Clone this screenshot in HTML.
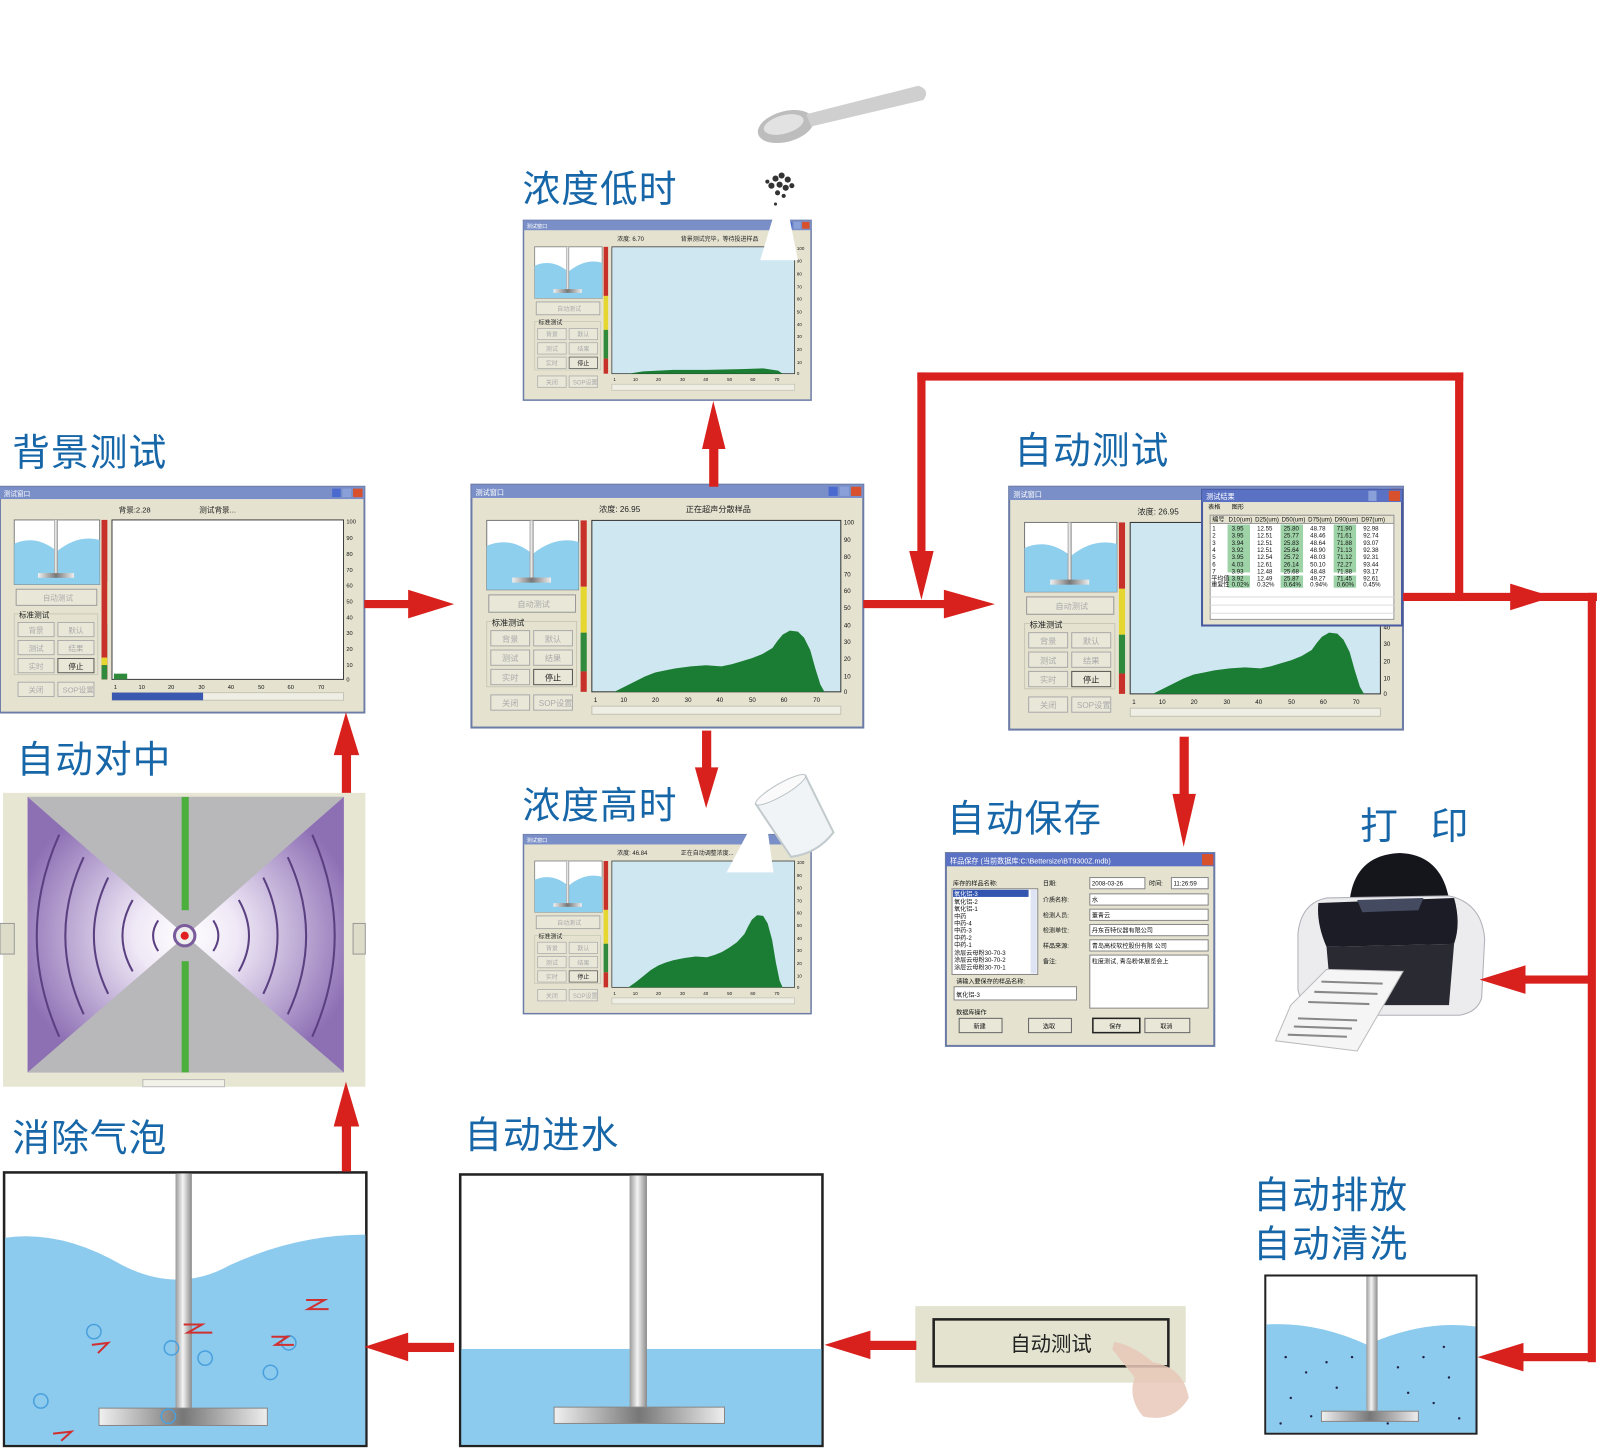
<!DOCTYPE html>
<html><head><meta charset="utf-8"><style>
html,body{margin:0;padding:0;background:#fff;}
svg{display:block;font-family:"Liberation Sans","Noto Sans CJK SC",sans-serif;}
.lbl{font-size:37px;fill:#1767a8;letter-spacing:1px;}
.t{font-size:8px;fill:#222;}
.g{font-size:8px;fill:#aaa;}
.w{font-size:7px;fill:#fff;}
.s{font-size:6px;fill:#111;}
</style></head><body>
<svg width="1600" height="1451" viewBox="0 0 1568 1422" xmlns="http://www.w3.org/2000/svg">
<defs>
<linearGradient id="shaft" x1="0" x2="1"><stop offset="0" stop-color="#9a9a9a"/><stop offset=".45" stop-color="#f4f4f4"/><stop offset="1" stop-color="#8a8a8a"/></linearGradient>
<linearGradient id="pad" x1="0" x2="1"><stop offset="0" stop-color="#f0f0f0"/><stop offset=".5" stop-color="#777"/><stop offset="1" stop-color="#eee"/></linearGradient>
<radialGradient id="cen" cx="0.5" cy="0.5" r="0.55"><stop offset="0" stop-color="#fff"/><stop offset=".3" stop-color="#efe8f6"/><stop offset="1" stop-color="#8d6fb4"/></radialGradient>
<g id="winbase">
 <rect x="0" y="0" width="384" height="238" fill="#e5e3d0" stroke="#6c7ca6" stroke-width="2"/>
 <rect x="0" y="0" width="384" height="13" fill="#7a8fc8"/>
 <rect x="350" y="2" width="9" height="9" fill="#4a6ad0"/><rect x="361" y="2" width="9" height="9" fill="#8aa0d8"/><rect x="372" y="2" width="10" height="9" fill="#d8502c"/>
 <rect x="15" y="35" width="90" height="68" fill="#fff" stroke="#777"/>
 <path d="M15,60 Q38,50 60,68 Q82,50 105,56 V103 H15Z" fill="#8fcfee"/>
 <rect x="57" y="35" width="4" height="58" fill="url(#shaft)"/><rect x="40" y="91" width="38" height="5" fill="url(#pad)"/>
 <rect x="107" y="35" width="6" height="65" fill="#c8302a"/><rect x="107" y="100" width="6" height="45" fill="#e6d630"/><rect x="107" y="145" width="6" height="38" fill="#2f8a3c"/><rect x="107" y="183" width="6" height="20" fill="#c8302a"/>
 <rect x="17" y="108" width="85" height="17" fill="#e9e7d8" stroke="#999"/>
 <rect x="15" y="134" width="88" height="64" fill="none" stroke="#c9c7b6"/>
 <rect x="19" y="143" width="38" height="15" fill="#e9e7d8" stroke="#aaa"/><rect x="61" y="143" width="38" height="15" fill="#e9e7d8" stroke="#aaa"/>
 <rect x="19" y="162" width="38" height="15" fill="#e9e7d8" stroke="#aaa"/><rect x="61" y="162" width="38" height="15" fill="#e9e7d8" stroke="#aaa"/>
 <rect x="19" y="181" width="38" height="15" fill="#e9e7d8" stroke="#aaa"/><rect x="61" y="181" width="38" height="15" fill="#e9e7d8" stroke="#555"/>
 <rect x="19" y="206" width="38" height="15" fill="#e9e7d8" stroke="#aaa"/><rect x="61" y="206" width="38" height="15" fill="#e9e7d8" stroke="#aaa"/>
 <rect x="118" y="217" width="244" height="8" fill="#efeee4" stroke="#c4c2b2"/>
</g>
<g id="wintext">
 <text class="w" x="4" y="10">测试窗口</text>
 <text class="g" x="45" y="120">自动测试</text>
 <text class="t" x="20" y="138">标准测试</text>
 <text class="g" x="30" y="154">背景</text><text class="g" x="72" y="154">默认</text>
 <text class="g" x="30" y="173">测试</text><text class="g" x="72" y="173">结果</text>
 <text class="g" x="30" y="192">实时</text><text class="t" x="72" y="192">停止</text>
 <text class="g" x="30" y="217">关闭</text><text class="g" x="66" y="217">SOP设置</text>
 <g class="s" font-size="6">
 <text x="365" y="39">100</text><text x="365" y="56">90</text><text x="365" y="73">80</text><text x="365" y="90">70</text><text x="365" y="106">60</text><text x="365" y="123">50</text><text x="365" y="140">40</text><text x="365" y="156">30</text><text x="365" y="173">20</text><text x="365" y="190">10</text><text x="365" y="205">0</text>
 <text x="120" y="213">1</text><text x="146" y="213">10</text><text x="177" y="213">20</text><text x="209" y="213">30</text><text x="240" y="213">40</text><text x="272" y="213">50</text><text x="303" y="213">60</text><text x="335" y="213">70</text>
 </g>
</g>
</defs>

<!-- spoon & particles -->
<ellipse cx="770" cy="124" rx="28" ry="15" fill="#bdbdbd" transform="rotate(-15 770 124)"/>
<ellipse cx="768" cy="122" rx="20" ry="9" fill="#e2e2e2" transform="rotate(-15 768 122)"/>
<path d="M790,112 L900,84 Q912,88 905,98 L795,124Z" fill="#cfcfcf"/>
<g fill="#333">
<circle cx="760" cy="175" r="3"/><circle cx="766" cy="172" r="3"/><circle cx="772" cy="176" r="3"/><circle cx="756" cy="182" r="3"/><circle cx="764" cy="181" r="3"/><circle cx="770" cy="184" r="3"/><circle cx="776" cy="182" r="2.5"/><circle cx="752" cy="178" r="2"/><circle cx="762" cy="189" r="2.5"/><circle cx="768" cy="192" r="2"/><circle cx="760" cy="200" r="1.5"/><circle cx="765" cy="208" r="1.5"/><circle cx="762" cy="218" r="1.5"/><circle cx="767" cy="226" r="1.2"/></g>

<!-- labels -->
<text class="lbl" x="512" y="198">浓度低时</text>
<text class="lbl" x="12" y="456">背景测试</text>
<text class="lbl" x="994" y="454">自动测试</text>
<text class="lbl" x="16" y="757">自动对中</text>
<text class="lbl" x="512" y="802">浓度高时</text>
<text class="lbl" x="928" y="815">自动保存</text>
<text class="lbl" x="1333" y="822">打</text><text class="lbl" x="1402" y="822">印</text>
<text class="lbl" x="12" y="1128">消除气泡</text>
<text class="lbl" x="455" y="1125">自动进水</text>
<text class="lbl" x="1228" y="1184">自动排放</text>
<text class="lbl" x="1228" y="1232">自动清洗</text>

<!-- low concentration window -->
<g transform="translate(513,216) scale(0.734,0.74)">
 <use href="#winbase"/>
 <rect x="118" y="35" width="244" height="168" fill="#cfe7f0" stroke="#333"/>
 <polygon points="140,203 160,200 200,198 245,198 290,197 320,196 340,199 346,203" fill="#1b7d33"/>
 <use href="#wintext"/>
 <text class="t" x="125" y="27">浓度: 6.70</text><text class="t" x="210" y="27">背景测试完毕，等待投进样品</text>
</g>
<path d="M760,205 L745,255 L782,255 L772,205Z" fill="#fff"/>

<!-- background window -->
<g transform="translate(0,477) scale(0.93,0.93)">
 <use href="#winbase"/>
 <rect x="107" y="35" width="6" height="168" fill="#c8302a"/><rect x="107" y="180" width="6" height="8" fill="#e6d630"/><rect x="107" y="188" width="6" height="15" fill="#2f8a3c"/>
 <rect x="118" y="35" width="244" height="168" fill="#fff" stroke="#333"/>
 <rect x="120" y="197" width="14" height="6" fill="#2f8a3c"/>
 <rect x="118" y="217" width="96" height="8" fill="#3a58b0"/>
 <use href="#wintext"/>
 <text class="t" x="125" y="27">背景:2.28</text><text class="t" x="210" y="27">测试背景...</text>
</g>

<!-- middle window -->
<g transform="translate(462,475)">
 <use href="#winbase"/>
 <rect x="118" y="35" width="244" height="168" fill="#cfe7f0" stroke="#333"/>
 <polygon points="140,203 150,198 160,193 170,188 180,184 190,182 200,180 215,178 230,177 245,178 255,176 265,173 275,170 285,166 295,160 300,153 305,147 312,143 320,144 326,150 332,162 337,180 342,196 346,203" fill="#1b7d33"/>
 <use href="#wintext"/>
 <text class="t" x="125" y="27">浓度: 26.95</text><text class="t" x="210" y="27">正在超声分散样品</text>
</g>

<!-- high concentration window -->
<g transform="translate(513,818) scale(0.734,0.737)">
 <use href="#winbase"/>
 <rect x="118" y="35" width="244" height="168" fill="#cfe7f0" stroke="#333"/>
 <polygon points="140,203 150,196 160,188 170,180 180,174 190,170 200,167 215,164 230,162 245,163 255,160 265,156 275,150 285,143 295,132 300,122 305,113 312,107 320,108 326,118 332,140 337,170 342,194 346,203" fill="#1b7d33"/>
 <use href="#wintext"/>
 <text class="t" x="125" y="27">浓度: 46.84</text><text class="t" x="210" y="27">正在自动调整浓度...</text>
</g>
<path d="M735,812 L712,855 L758,855 L752,812Z" fill="#fff"/>
<!-- beaker -->
<g transform="rotate(-30 780 800)">
<path d="M752,770 L808,770 L804,832 Q780,842 756,832Z" fill="#f1f4f6" stroke="#c2cacd" stroke-width="2"/>
<ellipse cx="780" cy="770" rx="28" ry="6" fill="#fafafa" stroke="#bcc4c8"/>
</g>

<!-- auto test window -->
<g transform="translate(989,477) scale(1.005,1)">
 <use href="#winbase"/>
 <rect x="118" y="35" width="244" height="168" fill="#cfe7f0" stroke="#333"/>
 <polygon points="140,203 150,198 160,193 170,188 180,184 190,182 200,180 215,178 230,177 245,178 255,176 265,173 275,170 285,166 295,160 300,153 305,147 312,143 320,144 326,150 332,162 337,180 342,196 346,203" fill="#1b7d33"/>
 <use href="#wintext"/>
 <text class="t" x="125" y="27">浓度: 26.95</text>
</g>
<!-- result popup -->
<g>
 <rect x="1178" y="480" width="196" height="133" fill="#e5e3d0" stroke="#4a5aa0" stroke-width="2"/>
 <rect x="1178" y="480" width="196" height="12" fill="#5b72c4"/>
 <text class="w" x="1182" y="489">测试结果</text>
 <rect x="1361" y="481" width="11" height="10" fill="#d8502c"/><rect x="1341" y="481" width="8" height="10" fill="#8aa0d8"/>
 <text class="s" x="1184" y="499">表格</text><text class="s" x="1207" y="499">图形</text>
 <rect x="1186" y="505" width="180" height="102" fill="#fff" stroke="#999"/>
 <rect x="1186" y="505" width="180" height="8" fill="#e5e3d0" stroke="#999"/>
 <g fill="#9ed3a8"><rect x="1203" y="514" width="22" height="47"/><rect x="1255" y="514" width="22" height="47"/><rect x="1307" y="514" width="22" height="47"/><rect x="1203" y="564" width="22" height="12"/><rect x="1255" y="564" width="22" height="12"/><rect x="1307" y="564" width="22" height="12"/></g>
 <g stroke="#ddd"><line x1="1186" y1="585" x2="1366" y2="585"/><line x1="1186" y1="593" x2="1366" y2="593"/><line x1="1186" y1="601" x2="1366" y2="601"/></g>
 <g class="s" font-size="4.5">
 <text x="1188" y="511">编号</text><text x="1204" y="511">D10(um)</text><text x="1230" y="511">D25(um)</text><text x="1256" y="511">D50(um)</text><text x="1282" y="511">D75(um)</text><text x="1308" y="511">D90(um)</text><text x="1334" y="511">D97(um)</text>
 <text x="1188" y="520">1</text><text x="1188" y="527">2</text><text x="1188" y="534">3</text><text x="1188" y="541">4</text><text x="1188" y="548">5</text><text x="1188" y="555">6</text><text x="1188" y="562">7</text><text x="1187" y="569">平均值</text><text x="1187" y="575">重复性</text>
 <text x="1207" y="520">3.95</text><text x="1232" y="520">12.55</text><text x="1258" y="520">25.80</text><text x="1284" y="520">48.78</text><text x="1310" y="520">71.90</text><text x="1336" y="520">92.98</text>
 <text x="1207" y="527">3.95</text><text x="1232" y="527">12.51</text><text x="1258" y="527">25.77</text><text x="1284" y="527">48.46</text><text x="1310" y="527">71.61</text><text x="1336" y="527">92.74</text>
 <text x="1207" y="534">3.94</text><text x="1232" y="534">12.51</text><text x="1258" y="534">25.83</text><text x="1284" y="534">48.64</text><text x="1310" y="534">71.88</text><text x="1336" y="534">93.07</text>
 <text x="1207" y="541">3.92</text><text x="1232" y="541">12.51</text><text x="1258" y="541">25.64</text><text x="1284" y="541">48.90</text><text x="1310" y="541">71.13</text><text x="1336" y="541">92.38</text>
 <text x="1207" y="548">3.95</text><text x="1232" y="548">12.54</text><text x="1258" y="548">25.72</text><text x="1284" y="548">48.03</text><text x="1310" y="548">71.12</text><text x="1336" y="548">92.31</text>
 <text x="1207" y="555">4.03</text><text x="1232" y="555">12.61</text><text x="1258" y="555">26.14</text><text x="1284" y="555">50.10</text><text x="1310" y="555">72.27</text><text x="1336" y="555">93.44</text>
 <text x="1207" y="562">3.93</text><text x="1232" y="562">12.48</text><text x="1258" y="562">25.68</text><text x="1284" y="562">48.48</text><text x="1310" y="562">71.88</text><text x="1336" y="562">93.17</text>
 <text x="1207" y="569">3.92</text><text x="1232" y="569">12.49</text><text x="1258" y="569">25.87</text><text x="1284" y="569">49.27</text><text x="1310" y="569">71.45</text><text x="1336" y="569">92.61</text>
 <text x="1207" y="575">0.02%</text><text x="1232" y="575">0.32%</text><text x="1258" y="575">0.64%</text><text x="1284" y="575">0.94%</text><text x="1310" y="575">0.60%</text><text x="1336" y="575">0.45%</text>
 </g>
</g>

<!-- auto center -->
<rect x="3" y="777" width="355" height="288" fill="#e6e6d2"/>
<rect x="0" y="905" width="14" height="30" fill="#dcdcc8" stroke="#999"/>
<rect x="346" y="905" width="12" height="30" fill="#dcdcc8" stroke="#999"/>
<rect x="140" y="1058" width="80" height="7" fill="#f2f2e8" stroke="#bbb"/>
<rect x="27" y="781" width="310" height="270" fill="url(#cen)"/>
<g fill="none" stroke="#5a4080" stroke-width="2">
<path d="M155,902 Q145,917 155,932"/><path d="M130,882 Q110,917 130,952"/><path d="M106,860 Q78,917 106,974"/><path d="M82,840 Q46,917 82,994"/><path d="M58,818 Q14,917 58,1016"/>
<path d="M209,902 Q219,917 209,932"/><path d="M234,882 Q254,917 234,952"/><path d="M258,860 Q286,917 258,974"/><path d="M282,840 Q318,917 282,994"/><path d="M306,818 Q350,917 306,1016"/>
</g>
<path d="M27,781 L337,781 L182,917Z" fill="#b8b8bb"/>
<path d="M27,1051 L337,1051 L182,917Z" fill="#b8b8bb"/>
<rect x="178" y="781" width="7" height="111" fill="#4cae3c"/><rect x="178" y="942" width="7" height="109" fill="#4cae3c"/>
<circle cx="181" cy="917" r="10" fill="#eee" stroke="#7a5c9c" stroke-width="3"/><circle cx="181" cy="917" r="4" fill="#e02020"/>

<!-- save dialog -->
<g>
 <rect x="927" y="836" width="263" height="189" fill="#e5e3d0" stroke="#6c7ca6" stroke-width="2"/>
 <rect x="927" y="836" width="263" height="13" fill="#5b72c4"/>
 <text class="w" x="931" y="846">样品保存  (当前数据库:C:\Bettersize\BT9300Z.mdb)</text>
 <rect x="1178" y="837" width="11" height="11" fill="#d8502c"/>
 <text class="s" x="934" y="868">库存的样品名称:</text>
 <rect x="933" y="871" width="84" height="84" fill="#fff" stroke="#888"/>
 <rect x="934" y="872" width="74" height="7" fill="#3355b0"/>
 <rect x="1010" y="872" width="6" height="82" fill="#dfe4f4"/>
 <g class="s" font-size="6"><text x="935" y="878" fill="#fff">氧化铝-3</text><text x="935" y="886">氧化铝-2</text><text x="935" y="893">氧化铝-1</text><text x="935" y="900">中药</text><text x="935" y="907">中药-4</text><text x="935" y="914">中药-3</text><text x="935" y="921">中药-2</text><text x="935" y="928">中药-1</text><text x="935" y="936">涂层云母粉30-70-3</text><text x="935" y="943">涂层云母粉30-70-2</text><text x="935" y="950">涂层云母粉30-70-1</text></g>
 <g class="s" font-size="7"><text x="1022" y="868">日期:</text><text x="1022" y="884">介质名称:</text><text x="1022" y="899">检测人员:</text><text x="1022" y="914">检测单位:</text><text x="1022" y="929">样品来源:</text><text x="1022" y="944">备注:</text><text x="1126" y="868">时间:</text></g>
 <g fill="#fff" stroke="#888"><rect x="1068" y="860" width="54" height="11"/><rect x="1148" y="860" width="36" height="11"/><rect x="1068" y="876" width="116" height="11"/><rect x="1068" y="891" width="116" height="11"/><rect x="1068" y="906" width="116" height="11"/><rect x="1068" y="921" width="116" height="11"/><rect x="1068" y="936" width="116" height="52"/><rect x="935" y="967" width="120" height="13"/></g>
 <g class="s" font-size="6.5"><text x="1070" y="868">2008-03-26</text><text x="1150" y="868">11:26:59</text><text x="1070" y="884">水</text><text x="1070" y="899">董青云</text><text x="1070" y="914">丹东百特仪器有限公司</text><text x="1070" y="929">青岛高校软控股份有限 公司</text><text x="1070" y="944">粒度测试, 青岛粉体展览会上</text><text x="937" y="977">氧化铝-3</text><text x="937" y="964">请输入要保存的样品名称:</text><text x="937" y="994">数据库操作</text></g>
 <g fill="#e9e7d8" stroke="#666"><rect x="940" y="998" width="42" height="14"/><rect x="1008" y="998" width="42" height="14"/><rect x="1071" y="998" width="46" height="14" stroke="#222" stroke-width="1.5"/><rect x="1122" y="998" width="44" height="14"/></g>
 <g class="s" font-size="7"><text x="954" y="1008">新建</text><text x="1022" y="1008">选取</text><text x="1087" y="1008">保存</text><text x="1137" y="1008">取消</text></g>
</g>

<!-- printer -->
<g>
 <path d="M1322,900 Q1320,838 1372,836 Q1420,838 1422,900Z" fill="#15151c"/>
 <path d="M1272,915 Q1275,885 1300,880 L1420,878 Q1452,885 1455,920 L1452,978 Q1448,992 1430,995 L1300,995 Q1276,990 1272,970Z" fill="#ececef" stroke="#b0b0b8"/>
 <path d="M1292,885 L1425,880 Q1432,905 1425,925 L1300,928 Q1290,905 1292,885Z" fill="#1b1c26"/>
 <path d="M1300,928 L1425,925 L1420,985 L1305,985Z" fill="#2a2a33"/>
 <path d="M1330,882 L1395,880 L1390,892 L1335,894Z" fill="#444a60"/>
 <path d="M1265,985 L1300,950 L1375,952 L1330,1030 L1250,1020Z" fill="#f5f5f5" stroke="#bbb"/>
 <g stroke="#888" stroke-width="2"><line x1="1272" y1="998" x2="1330" y2="1000"/><line x1="1268" y1="1006" x2="1325" y2="1008"/><line x1="1262" y1="1014" x2="1320" y2="1016"/><line x1="1295" y1="962" x2="1355" y2="964"/><line x1="1288" y1="972" x2="1350" y2="974"/><line x1="1282" y1="982" x2="1342" y2="984"/></g>
</g>

<!-- bubble tank -->
<rect x="4" y="1149" width="355" height="268" fill="#fff" stroke="#222" stroke-width="2.5"/>
<path d="M5,1213 Q60,1205 120,1240 Q175,1268 225,1240 Q290,1210 358,1210 V1416 H5Z" fill="#8ccbee"/>
<rect x="172" y="1150" width="16" height="232" fill="url(#shaft)"/>
<rect x="97" y="1380" width="165" height="17" fill="url(#pad)" stroke="#888"/>
<g fill="none" stroke="#4aa0dc" stroke-width="1.5"><circle cx="92" cy="1305" r="7"/><circle cx="168" cy="1321" r="7"/><circle cx="201" cy="1331" r="7"/><circle cx="265" cy="1345" r="7"/><circle cx="40" cy="1373" r="7"/><circle cx="165" cy="1388" r="7"/><circle cx="283" cy="1316" r="7"/></g>
<g fill="none" stroke="#d03030" stroke-width="2"><path d="M300,1274 L318,1274 L302,1283 L322,1283"/><path d="M180,1298 L198,1298 L184,1306 L208,1306"/><path d="M90,1318 L106,1316 L96,1326"/><path d="M266,1310 L282,1310 L270,1318 L288,1318"/><path d="M52,1405 L70,1403 L60,1412"/></g>

<!-- water in tank -->
<rect x="451" y="1151" width="355" height="266" fill="#fff" stroke="#222" stroke-width="2.5"/>
<rect x="452" y="1322" width="353" height="94" fill="#8ccbee"/>
<rect x="617" y="1152" width="17" height="230" fill="url(#shaft)"/>
<rect x="543" y="1379" width="167" height="16" fill="url(#pad)" stroke="#888"/>

<!-- auto test button panel -->
<rect x="897" y="1280" width="265" height="75" fill="#e3e3cf"/>
<rect x="915" y="1293" width="230" height="46" fill="#e3e3cf" stroke="#222" stroke-width="2.5"/>
<text x="990" y="1324" font-size="20" fill="#222">自动测试</text>
<path d="M1092,1315 Q1110,1318 1130,1335 Q1160,1340 1165,1370 Q1150,1395 1120,1388 Q1105,1370 1112,1350 Q1100,1335 1090,1322Z" fill="#e8c8b8" opacity="0.85"/>

<!-- drain tank -->
<rect x="1240" y="1250" width="207" height="155" fill="#fff" stroke="#222" stroke-width="2"/>
<path d="M1241,1298 Q1290,1295 1340,1318 Q1395,1293 1446,1300 V1404 H1241Z" fill="#8ccbee"/>
<rect x="1339" y="1251" width="11" height="133" fill="url(#shaft)"/>
<rect x="1295" y="1383" width="95" height="10" fill="url(#pad)" stroke="#888"/>
<g fill="#224"><circle cx="1260" cy="1330" r="1.2"/><circle cx="1280" cy="1345" r="1.2"/><circle cx="1300" cy="1335" r="1.2"/><circle cx="1265" cy="1370" r="1.2"/><circle cx="1310" cy="1360" r="1.2"/><circle cx="1370" cy="1340" r="1.2"/><circle cx="1395" cy="1330" r="1.2"/><circle cx="1420" cy="1350" r="1.2"/><circle cx="1405" cy="1375" r="1.2"/><circle cx="1380" cy="1365" r="1.2"/><circle cx="1430" cy="1390" r="1.2"/><circle cx="1255" cy="1395" r="1.2"/><circle cx="1285" cy="1388" r="1.2"/><circle cx="1360" cy="1395" r="1.2"/><circle cx="1415" cy="1320" r="1.2"/><circle cx="1325" cy="1330" r="1.2"/></g>

<!-- arrows -->
<g fill="#d8201c">
 <rect x="357" y="588" width="48" height="8"/><polygon points="400,578 445,592 400,606"/>
 <rect x="846" y="588" width="84" height="8"/><polygon points="925,578 975,592 925,606"/>
 <rect x="899" y="365" width="8" height="182"/><rect x="899" y="365" width="535" height="8"/><rect x="1426" y="365" width="8" height="224"/>
 <polygon points="891,540 915,540 903,588"/>
 <rect x="1375" y="581" width="190" height="8"/><polygon points="1480,572 1522,585 1480,598"/>
 <rect x="1556" y="581" width="8" height="754"/>
 <rect x="1490" y="956" width="70" height="8"/><polygon points="1495,946 1450,960 1495,974"/>
 <rect x="1490" y="1326" width="70" height="8"/><polygon points="1493,1316 1448,1330 1493,1344"/>
 <rect x="695" y="435" width="9" height="42"/><polygon points="688,440 711,440 699,393"/>
 <rect x="688" y="716" width="9" height="40"/><polygon points="681,752 704,752 692,792"/>
 <rect x="1156" y="722" width="9" height="60"/><polygon points="1149,778 1172,778 1160,830"/>
 <rect x="335" y="735" width="9" height="42"/><polygon points="327,740 352,740 339,698"/>
 <rect x="335" y="1100" width="9" height="48"/><polygon points="327,1104 352,1104 339,1060"/>
 <rect x="395" y="1316" width="50" height="9"/><polygon points="400,1306 357,1320 400,1334"/>
 <rect x="848" y="1314" width="50" height="9"/><polygon points="853,1304 808,1318 853,1332"/>
</g>
</svg>
</body></html>
